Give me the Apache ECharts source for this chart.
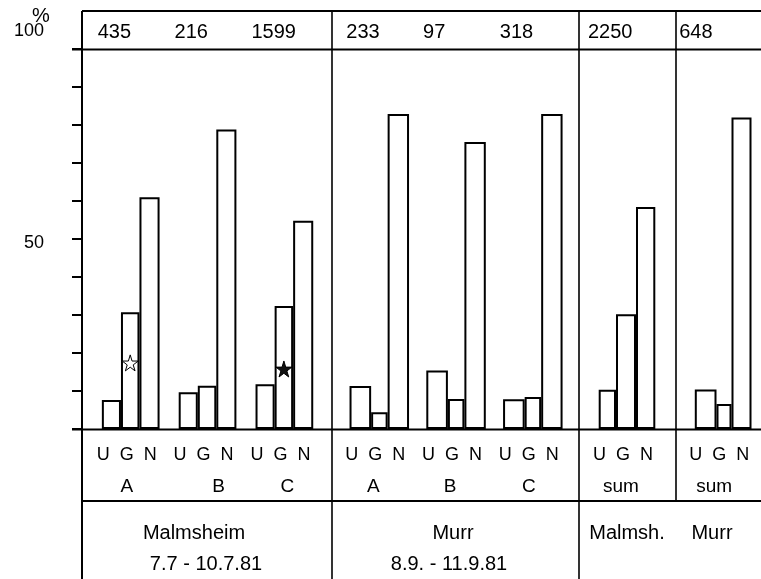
<!DOCTYPE html>
<html><head><meta charset="utf-8">
<script src="https://cdn.jsdelivr.net/npm/echarts@6/dist/echarts.min.js"></script>
<style>html,body{margin:0;padding:0;background:#fff}#c{width:761px;height:579px}</style>
</head><body><div id="c"></div>
<script>
// ---------- data ----------
const malmCats = ['A', 'B', 'C'];
const murrCats = ['A', 'B', 'C'];
const sumCats = ['sum'];
const malmU = [7.6, 9.7, 11.8];
const malmG = [30.7, 11.4, 32.4];
const malmN = [61.0, 78.8, 54.8];
const murrU = [11.3, 15.4, 7.8];
const murrG = [4.4, 7.9, 8.4];
const murrN = [82.9, 75.5, 82.9];
const malmSumU = [10.3], malmSumG = [30.2], malmSumN = [58.4];
const murrSumU = [10.4], murrSumG = [6.6], murrSumN = [82.0];
const malmCounts = ['435', '216', '1599'];
const murrCounts = ['233', '97', '318'];
const malmSumCounts = ['2250'];
const murrSumCounts = ['648'];
const starValues = [17.4, 15.8];          // star marks on G bars of Malmsheim A and C
const starCats = ['A', 'C'];
const yTickLabels = { 50: '50', 100: '100' };
const siteLabels = ['Malmsheim', 'Murr', 'Malmsh.', 'Murr'];
const dateLabels = ['7.7 - 10.7.81', '8.9. - 11.9.81'];
const barLetters = 'U  G  N';

// ---------- layout / style ----------
const FONT = '"Liberation Sans", Arial, sans-serif';
const INK = '#000';
const TOP = 49, H = 380;
const groups = [
  { cats: malmCats, U: malmU, G: malmG, N: malmN, counts: malmCounts, pos: { left: 92.3, width: 230.5 }, bw: [19.1, 18.5, 20.1], countBox: 66, abcShift: [-4, 11, 3] },
  { cats: murrCats, U: murrU, G: murrG, N: murrN, counts: murrCounts, pos: { left: 340.9, width: 230.3 }, bw: [21.6, 16.5, 21.4], countBox: 66, abcShift: [-6, -6, -4] },
  { cats: sumCats, U: malmSumU, G: malmSumG, N: malmSumN, counts: malmSumCounts, pos: { left: 589, width: 76 }, bw: [17.3, 20, 19.3], countBox: 78, abcShift: [-6] },
  { cats: sumCats, U: murrSumU, G: murrSumG, N: murrSumN, counts: murrSumCounts, pos: { left: 685.3, width: 75.7 }, bw: [21.7, 15, 20], countBox: 88, abcShift: [-9] }
];

const grid = [], xAxis = [], yAxis = [], series = [];
groups.forEach((g, i) => {
  grid.push(Object.assign({ top: TOP, height: H, outerBoundsMode: 'none', containLabel: false }, g.pos));
  const rich = {
    u: { fontFamily: FONT, fontSize: 18, lineHeight: 32, color: INK, padding: [0, 8, 0, 0] }
  };
  g.abcShift.forEach((s, k) => {
    rich['g' + k] = { fontFamily: FONT, fontSize: 19, lineHeight: 32, color: INK,
      padding: s < 0 ? [0, -2 * s, 0, 0] : [0, 0, 0, 2 * s] };
  });
  xAxis.push({
    type: 'category', gridIndex: i, data: g.cats,
    axisLine: { show: false }, axisTick: { show: false }, splitLine: { show: false },
    axisLabel: { interval: 0, margin: 10,
      formatter: (v, idx) => '{u|' + barLetters + '}\n{g' + idx + '|' + v + '}', rich }
  });
  xAxis.push({
    type: 'category', gridIndex: i, position: 'top', data: g.cats,
    axisLine: { show: false }, axisTick: { show: false }, splitLine: { show: false },
    axisLabel: { interval: 0, margin: 7,
      formatter: (v, idx) => '{n|' + g.counts[idx] + '}',
      rich: { n: { fontFamily: FONT, fontSize: 20, lineHeight: 20, color: INK, width: g.countBox, align: 'left' } } }
  });
  yAxis.push({
    type: 'value', gridIndex: i, min: 0, max: 100, interval: 10,
    show: i === 0, offset: i === 0 ? g.pos.left - 82 : 0,
    axisLine: { show: true, lineStyle: { color: INK, width: 2 } },
    axisTick: { show: true, length: 10, lineStyle: { color: INK, width: 2 } },
    splitLine: { show: false },
    axisLabel: { margin: 38, fontFamily: FONT, fontSize: 18, color: INK,
      formatter: v => v === 100 ? '{h|' + yTickLabels[100] + '}' : (v === 50 ? '{f|' + yTickLabels[50] + '}' : ''),
      rich: { h: { fontFamily: FONT, fontSize: 18, color: INK, padding: [0, 0, 36, 0] },
              f: { fontFamily: FONT, fontSize: 18, color: INK, padding: [8, 0, 0, 0] } } }
  });
  [['U', g.U], ['G', g.G], ['N', g.N]].forEach(([name, data], k) => {
    const s = {
      type: 'bar', name, xAxisIndex: 2 * i, yAxisIndex: i, data,
      barWidth: g.bw[k], barGap: '0%',
      itemStyle: { color: '#fff', borderColor: INK, borderWidth: 2 },
      silent: true
    };
    if (i === 0 && name === 'G') {
      s.markPoint = {
        silent: true,
        symbol: 'path://M50,0 L61,35 L98,35 L68,57 L79,91 L50,70 L21,91 L32,57 L2,35 L39,35 Z',
        symbolSize: 16,
        label: { show: false },
        data: starCats.map((c, j) => ({
          coord: [c, starValues[j]],
          itemStyle: j === 0 ? { color: '#fff', borderColor: INK, borderWidth: 1 } : { color: '#111', borderColor: INK, borderWidth: 1 }
        }))
      };
    }
    series.push(s);
  });
});

const line = (x1, y1, x2, y2, w) => ({ type: 'line', z: 100, silent: true,
  shape: { x1, y1, x2, y2 }, style: { stroke: INK, lineWidth: w } });
const text = (t, x, y) => ({ type: 'text', z: 100, silent: true, x, y,
  style: { text: t, fill: INK, font: '20px ' + FONT, align: 'center', verticalAlign: 'middle' } });

const graphic = [
  line(82, 11, 761, 11, 2),
  line(72, 49.5, 761, 49.5, 2),
  line(72, 429.5, 761, 429.5, 2),
  line(82, 501, 761, 501, 2),
  line(82, 11, 82, 579, 2),
  line(332, 11, 332, 579, 1.6),
  line(579, 11, 579, 579, 1.6),
  line(676, 11, 676, 501, 1.6),
  text('%', 41, 16),
  text(siteLabels[0], 194, 533),
  text(dateLabels[0], 206, 564),
  text(siteLabels[1], 453, 533),
  text(dateLabels[1], 449, 564),
  text(siteLabels[2], 627, 533),
  text(siteLabels[3], 712, 533)
];

const chart = echarts.init(document.getElementById('c'), null, { renderer: 'canvas' });
chart.setOption({
  animation: false,
  backgroundColor: '#fff',
  textStyle: { fontFamily: FONT },
  grid, xAxis, yAxis, series, graphic
});
</script>
</body></html>
